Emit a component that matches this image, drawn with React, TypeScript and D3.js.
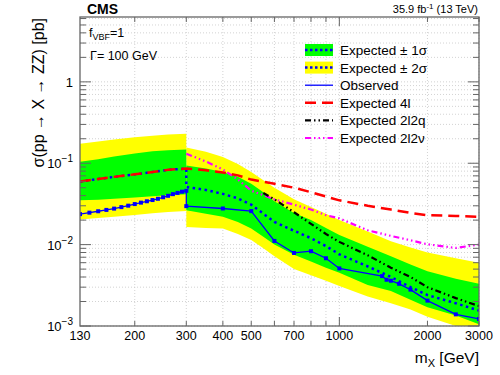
import React from "react";
import * as d3 from "d3";

// ---------- data ----------
const obsLowMass = [130, 140, 150, 160, 170, 180, 190, 200, 210, 220, 230, 240, 250, 260, 270, 280, 290, 300];
const obsLow = [0.0237, 0.0247, 0.0257, 0.0267, 0.0277, 0.0289, 0.0301, 0.0315, 0.0328, 0.0341, 0.0353, 0.0366, 0.0382, 0.0398, 0.0417, 0.0432, 0.0447, 0.0458];
const obsHighMass = [300, 400, 500, 600, 700, 800, 900, 1000, 1400, 1450, 1500, 1600, 1750, 2000, 2500, 3000];
const obsHigh = [0.0297, 0.0278, 0.0258, 0.0111, 0.0079, 0.0083, 0.0068, 0.0051, 0.0041, 0.0037, 0.0036, 0.0033, 0.0028, 0.00205, 0.00139, 0.00122];

const bandLowMass = [130, 150, 170, 200, 230, 260, 300];
const medLow = [0.0596, 0.064, 0.068, 0.073, 0.078, 0.083, 0.086];
const g1TopLow = [0.104, 0.112, 0.121, 0.132, 0.14, 0.144, 0.147];
const g1BotLow = [0.0351, 0.0357, 0.0365, 0.0378, 0.0392, 0.0405, 0.0417];
const y2TopLow = [0.174, 0.185, 0.196, 0.208, 0.218, 0.225, 0.231];
const y2BotLow = [0.0204, 0.0212, 0.022, 0.0232, 0.0243, 0.0251, 0.0259];

const bandHighMass = [300, 350, 400, 450, 500, 550, 600, 700, 800, 900, 1000, 1250, 1500, 1750, 2000, 2500, 3000];
const medHigh = [0.051, 0.047, 0.042, 0.037, 0.031, 0.024, 0.019, 0.0148, 0.012, 0.0096, 0.0076, 0.0054, 0.004, 0.003, 0.0024, 0.0019, 0.00155];
const g1TopHigh = [0.094, 0.086, 0.078, 0.068, 0.056, 0.044, 0.034, 0.0245, 0.02, 0.016, 0.0131, 0.0094, 0.0072, 0.0057, 0.0047, 0.0038, 0.0033];
const g1BotHigh = [0.0265, 0.024, 0.022, 0.019, 0.0158, 0.0125, 0.01, 0.0075, 0.0062, 0.0052, 0.0045, 0.0032, 0.0027, 0.0021, 0.0017, 0.00135, 0.00105];
const y2TopHigh = [0.156, 0.138, 0.119, 0.098, 0.078, 0.062, 0.05, 0.036, 0.029, 0.024, 0.02, 0.0145, 0.011, 0.0092, 0.008, 0.0068, 0.006];
const y2BotHigh = [0.0165, 0.016, 0.0158, 0.0135, 0.0114, 0.009, 0.0072, 0.005, 0.0042, 0.0036, 0.0031, 0.0023, 0.0019, 0.0016, 0.0013, 0.001, 0.00085];

const mass4l = [130, 150, 170, 200, 230, 260, 300, 350, 400, 450, 500, 600, 700, 800, 900, 1000, 1250, 1500, 1750, 2000, 2500, 3000];
const exp4l = [0.0596, 0.064, 0.068, 0.073, 0.078, 0.083, 0.086, 0.082, 0.077, 0.071, 0.063, 0.056, 0.05, 0.044, 0.039, 0.035, 0.03, 0.027, 0.0245, 0.023, 0.0225, 0.022];
const mass2l2q = [550, 600, 700, 800, 900, 1000, 1250, 1500, 1750, 2000, 2500, 3000];
const exp2l2q = [0.043, 0.036, 0.025, 0.018, 0.0135, 0.0108, 0.0074, 0.0052, 0.004, 0.003, 0.0022, 0.00176];
const mass2l2v = [300, 350, 400, 450, 500, 600, 700, 800, 900, 1000, 1250, 1500, 1750, 2000, 2500, 3000];
const exp2l2v = [0.131, 0.105, 0.084, 0.063, 0.046, 0.036, 0.031, 0.027, 0.023, 0.021, 0.015, 0.0128, 0.0113, 0.0101, 0.0091, 0.01];

const xTickLabels = [130, 200, 300, 400, 500, 700, 1000, 2000, 3000];
const xGridTicks = [200, 300, 400, 500, 600, 700, 800, 900, 1000, 2000, 3000];
const yMajor = [0.001, 0.01, 0.1, 1];
const yMajorLabels = ["-3", "-2", "-1", ""];

const legendItems = ["Expected \u00b1 1\u03c3", "Expected \u00b1 2\u03c3", "Observed", "Expected 4l", "Expected 2l2q", "Expected 2l2\u03bd"];

// ---------- layout ----------
const W = 500, H = 375;
const L = 80, R = 479, T = 17, B = 326;
const FONT = "'Liberation Sans', Arial, Helvetica, sans-serif";

export default function App() {
  const x = d3.scaleLog().domain([130, 3000]).range([L, R]);
  const y = d3.scaleLog().domain([1e-3, Math.pow(10, 0.797)]).range([B, T]);

  const zip = (m: number[], v: number[]) => m.map((mm, i) => [mm, v[i]] as [number, number]);
  const line = d3.line<[number, number]>().x(d => x(d[0])).y(d => y(d[1]));
  const area = (m: number[], lo: number[], hi: number[]) =>
    d3.area<number>().x((_, i) => x(m[i])).y0((_, i) => y(lo[i])).y1((_, i) => y(hi[i]))(m) as string;

  const yMinor: number[] = [];
  for (let k = -3; k <= 0; k++) for (let i = 2; i <= 9; i++) {
    const v = i * Math.pow(10, k);
    if (v < Math.pow(10, 0.797)) yMinor.push(v);
  }

  const obsAll = [...zip(obsLowMass, obsLow), ...zip(obsHighMass, obsHigh)];
  const medAll = [...zip(bandLowMass, medLow), ...zip(bandHighMass, medHigh)];

  const legY0 = 50, legDY = 17.6;
  const lx0 = 305, lx1 = 333;

  return (
    <svg width={W} height={H} style={{ position: "absolute", left: 0, top: 0, background: "#fff" }} fontFamily={FONT}>
      <defs>
        <clipPath id="plot"><rect x={L} y={T} width={R - L} height={B - T} /></clipPath>
      </defs>
      <rect x={0} y={0} width={W} height={H} fill="#fff" />

      {/* grid */}
      <g stroke="#c8c8c8" strokeWidth={0.8} strokeDasharray="1,2">
        {xGridTicks.map(t => <line key={"gx" + t} x1={x(t)} x2={x(t)} y1={T} y2={B} />)}
        {[...yMajor, ...yMinor].map(t => <line key={"gy" + t} x1={L} x2={R} y1={y(t)} y2={y(t)} />)}
      </g>

      <g clipPath="url(#plot)">
        {/* bands */}
        <path d={area(bandLowMass, y2BotLow, y2TopLow)} fill="#ffff00" />
        <path d={area(bandHighMass, y2BotHigh, y2TopHigh)} fill="#ffff00" />
        <path d={area(bandLowMass, g1BotLow, g1TopLow)} fill="#00ff00" />
        <path d={area(bandHighMass, g1BotHigh, g1TopHigh)} fill="#00ff00" />

        {/* expected median */}
        <path d={line(medAll) as string} fill="none" stroke="#0000ff" strokeWidth={2.5} strokeDasharray="2.5,3.5" />

        {/* 2l2v */}
        <path d={line(zip(mass2l2v, exp2l2v)) as string} fill="none" stroke="#ff00ff" strokeWidth={2.2} strokeDasharray="6,3,1.5,3,1.5,3,1.5,3" />
        {/* 2l2q */}
        <path d={line(zip(mass2l2q, exp2l2q)) as string} fill="none" stroke="#000" strokeWidth={2.2} strokeDasharray="6,3,1.5,3,1.5,3" />
        {/* 4l */}
        <path d={line(zip(mass4l, exp4l)) as string} fill="none" stroke="#ff0000" strokeWidth={2.5} strokeDasharray="11,6" />

        {/* observed */}
        <path d={line(obsAll) as string} fill="none" stroke="#0000ff" strokeWidth={1.3} />
        {obsAll.map((d, i) => (
          <rect key={"o" + i} x={x(d[0]) - 2} y={y(d[1]) - 2} width={4} height={4} fill="#0000ff" />
        ))}
      </g>

      {/* frame */}
      <rect x={L} y={T} width={R - L} height={B - T} fill="none" stroke="#666" strokeWidth={1.3} />

      {/* ticks */}
      <g stroke="#666" strokeWidth={1}>
        {yMajor.map(t => (
          <g key={"yt" + t}>
            <line x1={L} x2={L + 11} y1={y(t)} y2={y(t)} />
            <line x1={R} x2={R - 11} y1={y(t)} y2={y(t)} />
          </g>
        ))}
        {yMinor.map(t => (
          <g key={"ym" + t}>
            <line x1={L} x2={L + 6} y1={y(t)} y2={y(t)} />
            <line x1={R} x2={R - 6} y1={y(t)} y2={y(t)} />
          </g>
        ))}
        {xGridTicks.map(t => {
          const len = t === 1000 ? 9 : 5;
          return (
            <g key={"xt" + t}>
              <line x1={x(t)} x2={x(t)} y1={B} y2={B - len} />
              <line x1={x(t)} x2={x(t)} y1={T} y2={T + len} />
            </g>
          );
        })}
      </g>

      {/* y labels */}
      <g fontSize={13} fill="#000" textAnchor="end">
        {yMajor.map((t, i) =>
          yMajorLabels[i] === "" ? (
            <text key={"yl" + t} x={73} y={y(t) + 5}>1</text>
          ) : (
            <text key={"yl" + t} x={73} y={y(t) + 5}>
              10<tspan dy={-6} fontSize={10}>{"\u2212" + yMajorLabels[i].slice(1)}</tspan>
            </text>
          )
        )}
      </g>

      {/* x labels */}
      <g fontSize={12.5} fill="#000" textAnchor="middle">
        {xTickLabels.map(t => (
          <text key={"xl" + t} x={x(t)} y={B + 14}>{t}</text>
        ))}
      </g>

      {/* axis titles */}
      <text x={R} y={363} textAnchor="end" fontSize={15.5}>
        m<tspan dy={4} fontSize={11}>X</tspan><tspan dy={-4}> [GeV]</tspan>
      </text>
      <text transform={`translate(44,${T + 1}) rotate(-90)`} textAnchor="end" fontSize={16}>
        {"\u03c3(pp \u2192 X \u2192 ZZ) [pb]"}
      </text>

      {/* header */}
      <text x={87} y={14} fontSize={14} fontWeight="bold">CMS</text>
      <text x={478} y={13} fontSize={11} textAnchor="end">
        35.9 fb<tspan dy={-4} fontSize={8}>-1</tspan><tspan dy={4}> (13 TeV)</tspan>
      </text>
      <text x={89} y={37} fontSize={12.5}>
        f<tspan dy={3} fontSize={9}>VBF</tspan><tspan dy={-3}>=1</tspan>
      </text>
      <text x={90} y={60} fontSize={12.5}>{"\u0393= 100 GeV"}</text>

      {/* legend */}
      <g fontSize={13.5}>
        {legendItems.map((lab, i) => {
          const cy = legY0 + i * legDY;
          let sym: React.ReactNode = null;
          if (i === 0 || i === 1) {
            sym = (
              <g>
                <rect x={lx0} y={cy - 6} width={lx1 - lx0} height={12} fill={i === 0 ? "#00ff00" : "#ffff00"} />
                <line x1={lx0} x2={lx1} y1={cy} y2={cy} stroke="#0000ff" strokeWidth={2.5} strokeDasharray="2.5,2.5" />
              </g>
            );
          } else if (i === 2) {
            sym = <line x1={lx0} x2={lx1} y1={cy} y2={cy} stroke="#0000ff" strokeWidth={1.3} />;
          } else if (i === 3) {
            sym = <line x1={lx0} x2={lx1} y1={cy} y2={cy} stroke="#ff0000" strokeWidth={2.5} strokeDasharray="11,6" />;
          } else if (i === 4) {
            sym = <line x1={lx0} x2={lx1} y1={cy} y2={cy} stroke="#000" strokeWidth={2.2} strokeDasharray="6,3,1.5,3,1.5,3" />;
          } else {
            sym = <line x1={lx0} x2={lx1} y1={cy} y2={cy} stroke="#ff00ff" strokeWidth={2.2} strokeDasharray="6,3,1.5,3,1.5,3,1.5,3" />;
          }
          return (
            <g key={"lg" + i}>
              {sym}
              <text x={340} y={cy + 5}>{lab}</text>
            </g>
          );
        })}
      </g>
    </svg>
  );
}
